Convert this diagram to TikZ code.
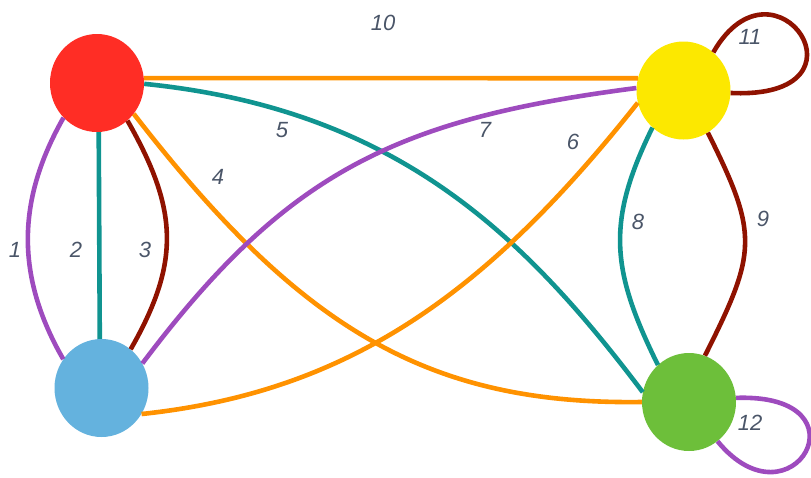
\documentclass[tikz,border=0pt]{standalone}
\usepackage{fontspec}
\setmainfont{Liberation Sans}
\usetikzlibrary{shapes.geometric}
\definecolor{cRed}{HTML}{FF2D25}
\definecolor{cBlue}{HTML}{64B2DE}
\definecolor{cYellow}{HTML}{FCE800}
\definecolor{cGreen}{HTML}{6DBF3A}
\definecolor{eOrange}{HTML}{FF9200}
\definecolor{eTeal}{HTML}{109490}
\definecolor{ePurple}{HTML}{9E4BBE}
\definecolor{eDark}{HTML}{8F1200}
\definecolor{lab}{HTML}{4A5568}
\tikzset{
  vert/.style={ellipse, inner sep=0pt, minimum width=94pt, minimum height=98pt, draw=none},
  edge/.style={line width=4.6pt},
  elab/.style={text=lab, font=\fontsize{22}{22}\selectfont\itshape, inner sep=0pt},
}
\begin{document}
\begin{tikzpicture}[x=1pt, y=-1pt]
\useasboundingbox (0,0) rectangle (811,477);
% nodes
\node[vert, fill=cRed] (r) at (97,83) {};
\node[vert, fill=cBlue] (b) at (101.5,388) {};
\node[vert, fill=cYellow] (y) at (683.5,90.5) {};
\node[vert, fill=cGreen] (g) at (689,402) {};
% edges
\draw[edge, ePurple] (r.-134) .. controls (17,199.5) and (15,275.5) .. (b.143);
\draw[edge, eTeal] (r.-88) -- (b.92);
\draw[edge, eDark] (r.-51) .. controls (178.5,210) and (180.5,262) .. (b.53);
\draw[edge, eOrange] (r.-40) .. controls (300,329) and (428,405) .. (g.180);
\draw[edge, eTeal] (r.-1) .. controls (394,109) and (522,232) .. (g.168);
\draw[edge, eOrange] (b.-33) .. controls (348.5,392) and (485.5,295) .. (y.195);
\draw[edge, ePurple] (b.31) .. controls (287,171) and (397,119) .. (y.177);
\draw[edge, eTeal] (y.-130) .. controls (606,222) and (611,270) .. (g.130);
\draw[edge, eDark] (y.-60) .. controls (759,235) and (757,252) .. (g.71);
\draw[edge, eOrange] (r.6) -- (y.165);
\draw[edge, eDark] (y.52) .. controls (775,-55) and (880,100) .. (y.-3);
\draw[edge, ePurple] (g.5) .. controls (872,393) and (792,532) .. (g.-54);
% labels
\node[elab] (l1) at (15,250) {1};
\node[elab] (l2) at (76,250) {2};
\node[elab] (l3) at (145,250) {3};
\node[elab] (l4) at (218,177) {4};
\node[elab] (l5) at (282,130) {5};
\node[elab] (l6) at (573,142) {6};
\node[elab] (l7) at (485,130) {7};
\node[elab] (l8) at (638,222) {8};
\node[elab] (l9) at (763,219) {9};
\node[elab] (l10) at (383,23) {10};
\node[elab] (l11) at (750,37) {11};
\node[elab] (l12) at (750,423) {12};
\end{tikzpicture}
\end{document}
